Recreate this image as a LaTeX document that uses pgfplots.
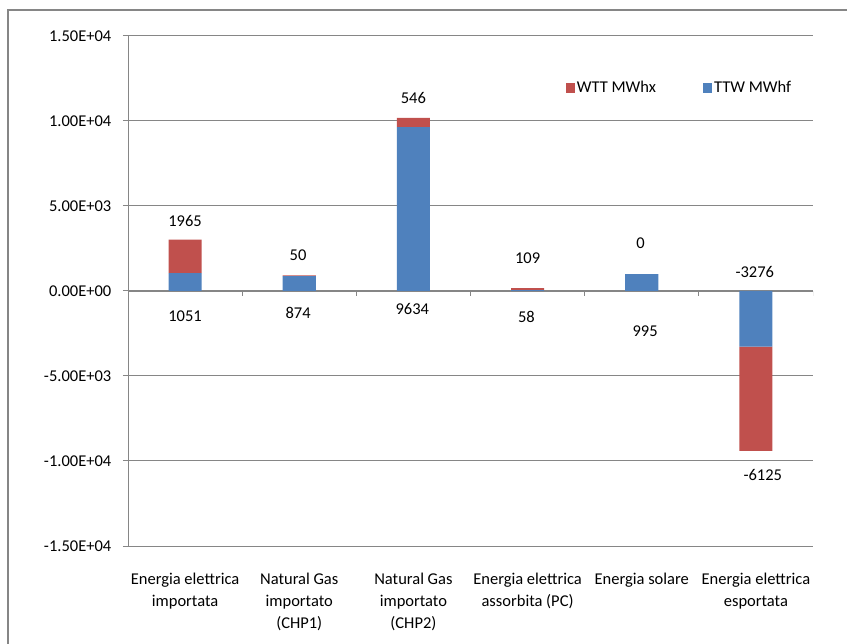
\documentclass[border=0pt]{standalone}
\usepackage{pgfplots}
\pgfplotsset{compat=1.18}
\usepackage{fontspec}
\setmainfont{Carlito}

\definecolor{wtt}{HTML}{C0504D}
\definecolor{ttw}{HTML}{4F81BD}
\definecolor{gridc}{HTML}{868686}

\begin{document}
\fontsize{16.5bp}{22bp}\selectfont
\begin{tikzpicture}
\useasboundingbox (0bp,0bp) rectangle (847bp,644bp);
% outer chart frame (runs off the right and bottom edge)
\draw[gridc, line width=1.5bp] (8bp,-20bp) -- (8bp,634bp) -- (900bp,634bp);
\begin{axis}[
    at={(128bp,98bp)}, anchor=south west,
    scale only axis, width=685bp, height=510bp,
    ymin=-15000, ymax=15000, xmin=-0.5, xmax=5.5,
    ybar stacked, bar width=0.29,
    axis line style={draw=none},
    scaled y ticks=false,
    ytick={-15000,-10000,...,15000},
    yticklabels={-1.50E+04,-1.00E+04,-5.00E+03,0.00E+00,5.00E+03,1.00E+04,1.50E+04},
    ymajorgrids, grid style={gridc, line width=1bp},
    ytick pos=left, tick align=outside, major tick length=5bp,
    ytick style={gridc, line width=1bp},
    yticklabel style={xshift=-6bp, font=\fontsize{16.5bp}{22bp}\selectfont},
    xtick={0,...,5}, xtick style={draw=none},
    xticklabels={{Energia elettrica\\importata},{Natural Gas\\importato\\(CHP1)},{Natural Gas\\importato\\(CHP2)},{Energia elettrica\\assorbita (PC)},{Energia solare},{Energia elettrica\\esportata}},
    xticklabel style={align=center, yshift=-16bp, font=\fontsize{16.5bp}{22bp}\selectfont},
    legend style={at={(0.639,0.898)}, anchor=west, draw=none, fill=none, inner sep=0pt,
        legend columns=2, font=\fontsize{16.5bp}{22bp}\selectfont,
        /tikz/every even column/.append style={column sep=45bp}},
    legend image code/.code={\fill (0bp,-5bp) rectangle (9bp,5bp);},
]
\addplot[fill=ttw, draw=none, forget plot] coordinates {(0,1051) (1,874) (2,9634) (3,58) (4,995) (5,-3276)};
\addplot[fill=wtt, draw=none, forget plot] coordinates {(0,1965) (1,50) (2,546) (3,109) (4,0) (5,-6125)};
\addlegendimage{fill=wtt, draw=none}
\addlegendentry{WTT MWhx}
\addlegendimage{fill=ttw, draw=none}
\addlegendentry{TTW MWhf}

% axis lines
\draw[gridc, line width=1.2bp] (axis cs:-0.5,-15000) -- (axis cs:-0.5,15000);
\draw[gridc, line width=1.5bp] (axis cs:-0.5,0) -- (axis cs:5.5,0);
\draw[gridc, line width=1bp]
    (axis cs:0.5,0) -- ([yshift=-5bp]axis cs:0.5,0)
    (axis cs:1.5,0) -- ([yshift=-5bp]axis cs:1.5,0)
    (axis cs:2.5,0) -- ([yshift=-5bp]axis cs:2.5,0)
    (axis cs:3.5,0) -- ([yshift=-5bp]axis cs:3.5,0)
    (axis cs:4.5,0) -- ([yshift=-5bp]axis cs:4.5,0)
    (axis cs:5.5,0) -- ([yshift=-5bp]axis cs:5.5,0);

% data labels
\node at (axis cs:0,4118) {1965};
\node at (axis cs:0,-1470) {1051};
\node at (axis cs:0.99,2118) {50};
\node at (axis cs:0.99,-1294) {874};
\node at (axis cs:2,11353) {546};
\node at (axis cs:1.99,-1050) {9634};
\node at (axis cs:3,1941) {109};
\node at (axis cs:2.99,-1529) {58};
\node at (axis cs:3.99,2824) {0};
\node at (axis cs:4.03,-2353) {995};
\node at (axis cs:4.99,1118) {-3276};
\node at (axis cs:5.06,-10824) {-6125};
\end{axis}
\end{tikzpicture}
\end{document}
